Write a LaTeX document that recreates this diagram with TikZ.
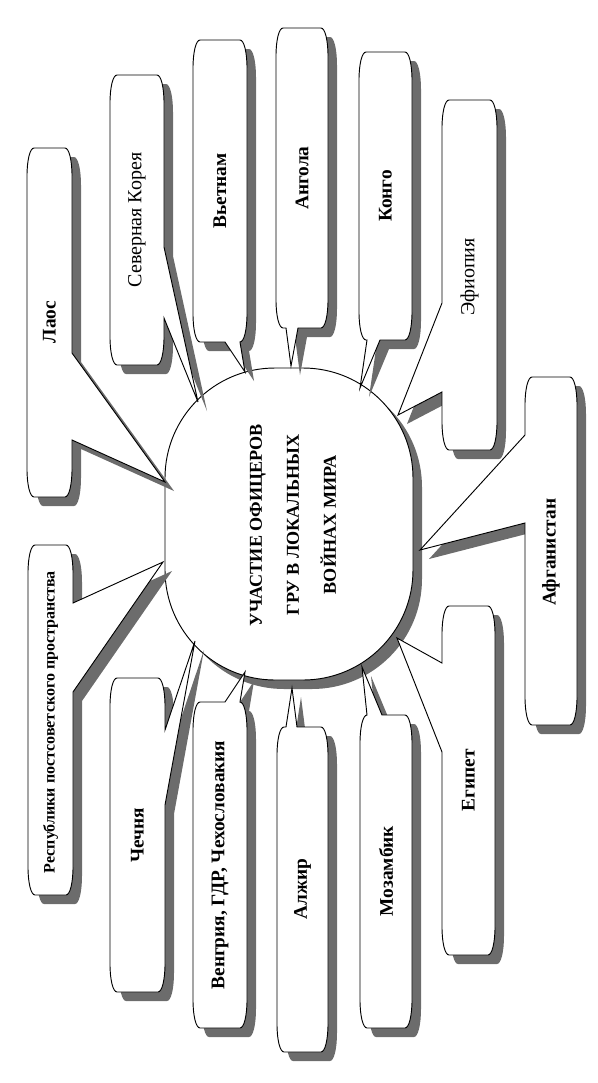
\documentclass[tikz,border=0pt]{standalone}
\usepackage{fontspec}
\setmainfont{Liberation Serif}
\definecolor{shadowc}{RGB}{108,108,108}
\tikzset{
  bubble/.style={fill=white,draw=black,line width=0.7pt,
    preaction={fill=shadowc,transform canvas={shift={(9,9)}}}},
  lbl/.style={font=\bfseries\fontsize{14.5}{17}\selectfont,rotate=90,inner sep=0pt},
  lblthin/.style={font=\fontsize{15}{17}\selectfont,rotate=90,inner sep=0pt},
  ctext/.style={font=\bfseries\fontsize{13.6}{27.75}\selectfont,rotate=90,align=center,inner sep=0pt}
}
% L T R B a b tip ; pointer on right edge (a<b in y)
\newcommand\cR[7]{\path[bubble] ({#1},{#2+28}) .. controls ({#1},{#2+12}) and ({#1+3},{#2}) .. ({#1+7},{#2})
 -- ({#3-7},{#2}) .. controls ({#3-3},{#2}) and ({#3},{#2+12}) .. ({#3},{#2+28})
 -- ({#3},{#5}) -- (#7) -- ({#3},{#6})
 -- ({#3},{#4-28}) .. controls ({#3},{#4-12}) and ({#3-3},{#4}) .. ({#3-7},{#4})
 -- ({#1+7},{#4}) .. controls ({#1+3},{#4}) and ({#1},{#4-12}) .. ({#1},{#4-28}) -- cycle;}
% pointer on left edge
\newcommand\cL[7]{\path[bubble] ({#1},{#2+28}) .. controls ({#1},{#2+12}) and ({#1+3},{#2}) .. ({#1+7},{#2})
 -- ({#3-7},{#2}) .. controls ({#3-3},{#2}) and ({#3},{#2+12}) .. ({#3},{#2+28})
 -- ({#3},{#4-28}) .. controls ({#3},{#4-12}) and ({#3-3},{#4}) .. ({#3-7},{#4})
 -- ({#1+7},{#4}) .. controls ({#1+3},{#4}) and ({#1},{#4-12}) .. ({#1},{#4-28})
 -- ({#1},{#6}) -- (#7) -- ({#1},{#5}) -- cycle;}
% pointer on bottom edge (a<b in x)
\newcommand\cB[7]{\path[bubble] ({#1},{#2+28}) .. controls ({#1},{#2+12}) and ({#1+3},{#2}) .. ({#1+7},{#2})
 -- ({#3-7},{#2}) .. controls ({#3-3},{#2}) and ({#3},{#2+12}) .. ({#3},{#2+28})
 -- ({#3},{#4-28}) .. controls ({#3},{#4-12}) and ({#3-3},{#4}) .. ({#3-7},{#4})
 -- ({#6},{#4}) -- (#7) -- ({#5},{#4})
 -- ({#1+7},{#4}) .. controls ({#1+3},{#4}) and ({#1},{#4-12}) .. ({#1},{#4-28}) -- cycle;}
% pointer on top edge
\newcommand\cT[7]{\path[bubble] ({#1},{#2+28}) .. controls ({#1},{#2+12}) and ({#1+3},{#2}) .. ({#1+7},{#2})
 -- ({#5},{#2}) -- (#7) -- ({#6},{#2})
 -- ({#3-7},{#2}) .. controls ({#3-3},{#2}) and ({#3},{#2+12}) .. ({#3},{#2+28})
 -- ({#3},{#4-28}) .. controls ({#3},{#4-12}) and ({#3-3},{#4}) .. ({#3-7},{#4})
 -- ({#1+7},{#4}) .. controls ({#1+3},{#4}) and ({#1},{#4-12}) .. ({#1},{#4-28}) -- cycle;}
\begin{document}
\begin{tikzpicture}[x=0.75pt,y=-0.75pt]
\useasboundingbox (0,0) rectangle (598,1083);
% central shape
\path[bubble,rounded corners=82.5pt] (165,368) rectangle (413,680);
\node[ctext] (center) at (293,525) {УЧАСТИЕ ОФИЦЕРОВ\\ГРУ В ЛОКАЛЬНЫХ\\ВОЙНАХ МИРА};
% tips on the central shape
\coordinate (tLaos) at (165,482);
\coordinate (tKorea) at (198,402);
\coordinate (tResp) at (163,562);
\coordinate (tChech) at (195,641);
\coordinate (tViet) at (245,372);
\coordinate (tAng) at (291,366);
\coordinate (tCongo) at (360,388);
\coordinate (tEth) at (398,415);
\coordinate (tAfg) at (420,550);
\coordinate (tEgy) at (397,638);
\coordinate (tHun) at (245,672);
\coordinate (tAlg) at (292,688);
\coordinate (tMoz) at (362,667);
% callouts
\cR{27}{148}{72}{497}{353}{440}{tLaos}
\cR{110}{75}{164}{365}{247}{318}{tKorea}
\cR{28}{545}{73}{895}{603}{692}{tResp}
\cR{110}{678}{165}{992}{730}{805}{tChech}
\cB{193}{40}{247}{342}{225}{240}{tViet}
\cB{276}{28}{328}{328}{286}{298}{tAng}
\cB{359}{52}{412}{340}{367}{380}{tCongo}
\cL{442}{100}{497}{450}{303}{392}{tEth}
\cL{525}{377}{577}{725}{435}{523}{tAfg}
\cL{442}{606}{495}{955}{663}{752}{tEgy}
\cT{193}{702}{247}{1028}{225}{240}{tHun}
\cT{277}{727}{328}{1052}{286}{297}{tAlg}
\cT{360}{715}{412}{1028}{367}{382}{tMoz}
% labels
\node[lbl] (laos) at (49.5,322) {Лаос};
\node[lblthin] (korea) at (137,220) {Северная Корея};
\node[lbl,font=\bfseries\fontsize{12}{14}\selectfont] (resp) at (50.5,722) {Республики постсоветского пространства};
\node[lbl] (chech) at (137.5,835) {Чечня};
\node[lbl] (viet) at (220,191) {Вьетнам};
\node[lbl] (ang) at (302,178) {Ангола};
\node[lbl] (congo) at (385.5,196) {Конго};
\node[lblthin] (eth) at (469.5,277) {Эфиопия};
\node[lbl] (afg) at (551,552) {Афганистан};
\node[lbl] (egy) at (468.5,780) {Египет};
\node[lbl] (hun) at (220,865) {Венгрия, ГДР, Чехословакия};
\node[lbl] (alg) at (302.5,889) {Алжир};
\node[lbl] (moz) at (386,871) {Мозамбик};
\end{tikzpicture}
\end{document}
